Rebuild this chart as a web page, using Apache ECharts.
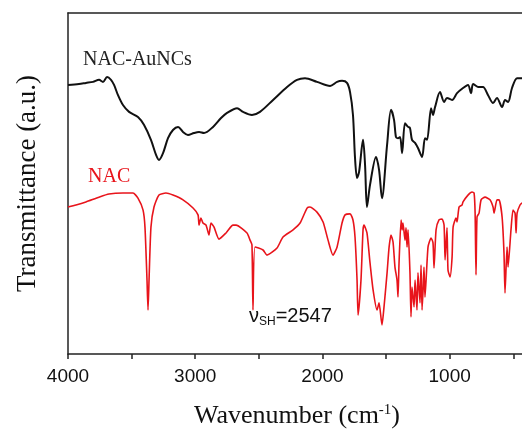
<!DOCTYPE html>
<html><head><meta charset="utf-8">
<script src="https://cdn.jsdelivr.net/npm/echarts@6/dist/echarts.min.js"></script>
<style>html,body{margin:0;padding:0;background:#fff}#c{width:522px;height:430px}</style>
</head><body><div id="c"></div>
<script>
// NAC-AuNCs spectrum: [wavenumber, transmittance a.u.]
const auncsWavenumber = [4000,3914,3859,3803,3756,3725,3693,3662,3638,3607,3568,3520,3450,3403,3348,3308,3285,3253,3214,3175,3135,3096,3057,3010,2970,2931,2860,2797,2750,2671,2624,2554,2491,2388,2278,2200,2137,2043,1940,1885,1846,1807,1783,1760,1744,1728,1712,1681,1665,1650,1626,1579,1555,1532,1492,1461,1437,1422,1406,1390,1374,1351,1327,1312,1296,1272,1249,1217,1194,1178,1146,1131,1115,1076,1044,1021,981,942,895,856,832,816,777,738,698,659,628,588,565,541,510,470,431];
const auncsValues = [78.9,79.2,79.5,79.8,80.4,79.8,81.2,80.4,78.9,75.9,73.0,71.0,69.5,67.2,62.8,58.4,56.9,58.9,63.3,65.7,66.6,65.1,64.2,64.8,65.1,64.8,66.6,69.2,70.7,72.1,71.0,70.1,71.0,74.5,78.3,80.4,80.9,79.8,78.6,79.8,80.1,79.5,76.8,70.1,57.5,51.6,53.4,62.8,55.4,43.1,49.6,57.8,54.0,45.7,61.3,71.6,68.6,63.6,63.3,63.6,58.9,67.7,66.6,66.3,62.8,61.9,60.4,57.8,63.3,62.8,72.1,70.1,72.4,76.8,73.9,75.1,74.5,76.5,78.0,78.9,76.5,79.2,78.3,78.3,75.9,73.6,75.1,72.4,74.5,73.9,78.0,80.9,80.9];
// NAC spectrum
const nacWavenumber = [4000,3937,3859,3756,3678,3568,3489,3450,3410,3395,3379,3371,3363,3348,3324,3285,3230,3175,3096,3017,2978,2970,2955,2939,2915,2892,2876,2852,2813,2758,2703,2679,2593,2569,2554,2546,2530,2467,2436,2357,2310,2231,2176,2121,2098,2043,1995,1956,1917,1885,1846,1822,1783,1760,1744,1728,1720,1697,1681,1673,1650,1626,1602,1571,1555,1532,1516,1492,1476,1461,1445,1430,1414,1406,1398,1382,1374,1367,1351,1343,1335,1327,1312,1304,1296,1280,1272,1257,1249,1233,1225,1217,1209,1202,1194,1170,1146,1131,1123,1107,1084,1060,1044,1036,1021,1013,997,981,973,950,942,926,903,895,856,824,808,800,793,785,769,753,722,683,659,651,628,612,588,573,565,549,541,518,502,486,478,470,447,431];
const nacValues = [43.1,43.7,44.6,46.0,46.9,47.2,47.2,45.7,42.2,37.2,21.7,12.9,21.7,37.2,43.1,46.6,47.2,46.6,45.2,42.8,40.8,37.8,39.9,38.4,37.8,34.9,38.4,37.2,33.7,35.5,37.8,37.8,35.5,33.4,32.0,12.9,31.4,30.5,29.0,31.1,34.3,36.4,38.4,42.8,43.1,41.6,38.7,33.4,29.0,31.4,38.4,40.8,41.1,39.3,34.3,21.7,11.4,21.7,36.4,37.8,35.5,26.7,18.8,12.9,15.0,8.5,13.8,23.8,31.4,34.9,32.8,25.5,21.7,16.7,26.7,39.3,36.4,38.4,33.4,37.0,31.4,36.4,23.8,10.9,19.6,13.8,21.7,12.9,23.8,15.0,26.1,12.9,18.8,25.5,16.7,31.4,34.0,32.6,25.2,36.4,39.3,39.6,37.8,27.6,37.0,24.6,22.6,28.4,37.2,39.9,38.7,43.1,43.7,44.6,46.6,47.5,47.2,41.3,23.2,40.2,41.3,45.2,46.0,45.2,43.1,41.3,45.2,45.2,40.2,29.6,17.9,31.4,25.5,36.4,42.2,41.3,35.5,41.3,43.7,44.3];
const xLabelValues = [4000,3000,2000,1000];
const xTickValues = [4000,3500,3000,2500,2000,1500,1000,500];
const seriesNames = ['NAC-AuNCs','NAC'];

const zip = (a,b)=>a.map((v,i)=>[v,b[i]]);
const chart = echarts.init(document.getElementById('c'), null, {renderer:'canvas'});
const serif = '"Liberation Serif","Times New Roman",serif';
const sans = '"Liberation Sans",Arial,sans-serif';
chart.setOption({
  animation:false,
  backgroundColor:'#fff',
  grid:{left:68, top:13, width:458, height:341, show:false, containLabel:false, outerBoundsMode:'none'},
  xAxis:[{type:'value', inverse:true, min:400, max:4000,
    axisLine:{show:true, onZero:false, lineStyle:{color:'#222', width:1.5}},
    axisTick:{show:true, customValues:xTickValues, length:5, lineStyle:{color:'#222', width:1.5}},
    axisLabel:{customValues:xLabelValues, formatter:(v)=>String(v), color:'#111', fontFamily:sans, fontSize:19, margin:13},
    splitLine:{show:false},
    name:'Wavenumber (cm{sup|-1})', nameLocation:'middle', nameGap:49,
    nameTextStyle:{fontFamily:serif, fontSize:26, color:'#111',
      rich:{sup:{fontFamily:serif, fontSize:15, color:'#111', verticalAlign:'top', padding:[0,0,12,0]}}}
  },{type:'value', position:'top', inverse:true, min:400, max:4000,
    axisLine:{show:true, onZero:false, lineStyle:{color:'#222', width:1.5}},
    axisTick:{show:false}, axisLabel:{show:false}, splitLine:{show:false}}],
  yAxis:{type:'value', min:0, max:100,
    axisLine:{show:true, lineStyle:{color:'#222', width:1.5}},
    axisTick:{show:false}, axisLabel:{show:false}, splitLine:{show:false},
    name:'Transmittance (a.u.)', nameLocation:'middle', nameRotate:90, nameGap:27,
    nameTextStyle:{fontFamily:serif, fontSize:27, color:'#111'}
  },
  series:[
    {name:seriesNames[0], type:'line', data:zip(auncsWavenumber, auncsValues), showSymbol:false, smooth:0.3,
     lineStyle:{color:'#111', width:2}, z:3},
    {name:seriesNames[1], type:'line', data:zip(nacWavenumber, nacValues), showSymbol:false, smooth:0.2,
     lineStyle:{color:'#e8141b', width:1.6}, z:2}
  ],
  graphic:[
    {type:'text', left:83, top:50, style:{text:seriesNames[0], font:'20px '+serif, fill:'#222'}},
    {type:'text', left:88, top:167, style:{text:seriesNames[1], font:'20px '+serif, fill:'#e8141b'}},
    {type:'text', left:249, top:306, style:{
      text:'ν{sub|SH}=2547', font:'20px '+sans, fill:'#111',
      rich:{sub:{fontFamily:sans, fontSize:12, fill:'#111', padding:[12,0,0,0]}}}}
  ]
});
</script></body></html>
